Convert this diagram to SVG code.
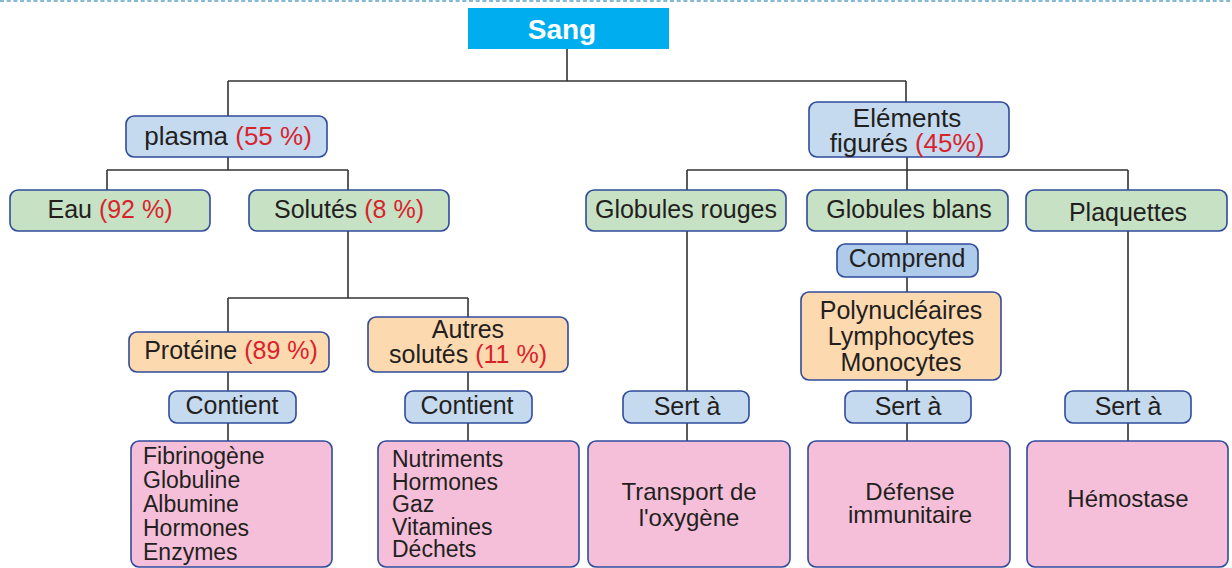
<svg xmlns="http://www.w3.org/2000/svg" width="1232" height="568" viewBox="0 0 1232 568">
  <style>
    text { font-family: "Liberation Sans", Arial, sans-serif; fill: #231F20; }
    .lbl { font-size: 25px; text-anchor: middle; }
    .big { font-size: 26px; text-anchor: middle; }
    .sm { font-size: 24px; text-anchor: middle; }
    .lst { font-size: 23px; }
    .pct { fill: #D9232C; }
    .box { stroke: #2F4B9B; stroke-width: 1.6; }
    .blue { fill: #C5DAEF; }
    .blue2 { fill: #AFCBEC; }
    .green { fill: #C7E1C4; }
    .orange { fill: #FDD9B0; }
    .pink { fill: #F5BFD9; }
    .wire { fill: none; stroke: #333333; stroke-width: 1.6; }
  </style>

  <rect width="1232" height="568" fill="#FFFFFF"/>
  <!-- page edge -->
  <line x1="0" y1="1" x2="1232" y2="1" stroke="#5FA3C6" stroke-width="1.5" stroke-dasharray="4 2.7"/>

  <!-- connectors -->
  <g id="connectors" class="wire">
    <path d="M567 49 V81 M228 81 H906 M228 81 V116 M906 81 V102"/>
    <path d="M228 157 V170 M107 170 H348 M107 170 V190 M348 170 V190"/>
    <path d="M348 231 V298 M228 298 H468 M228 298 V332 M468 298 V317"/>
    <path d="M228 372 V391 M228 423 V441 M468 372 V391 M468 423 V441"/>
    <path d="M907 157 V170 M687 170 H1128 M687 170 V190 M907 170 V190 M1128 170 V190"/>
    <path d="M687 231 V391 M687 423 V441"/>
    <path d="M907 231 V244 M907 277 V292 M907 380 V391 M907 423 V441"/>
    <path d="M1128 231 V391 M1128 423 V441"/>
  </g>

  <g id="sang">
    <rect x="468" y="8" width="201" height="41" fill="#00AEEF"/>
    <text x="562" y="39" text-anchor="middle" font-size="28" font-weight="bold" style="fill:#FFFFFF">Sang</text>
  </g>

  <g id="plasma">
    <rect class="box blue" x="126" y="116" width="201" height="41" rx="8"/>
    <text class="big" x="228" y="145">plasma <tspan class="pct">(55 %)</tspan></text>
  </g>

  <g id="elements">
    <rect class="box blue" x="809" y="102" width="200" height="55" rx="8"/>
    <text class="big" x="907" y="127">Eléments</text>
    <text class="big" x="907" y="152">figurés <tspan class="pct">(45%)</tspan></text>
  </g>

  <g id="eau">
    <rect class="box green" x="10" y="190" width="200" height="41" rx="8"/>
    <text class="lbl" x="110" y="218">Eau <tspan class="pct">(92 %)</tspan></text>
  </g>

  <g id="solutes">
    <rect class="box green" x="249" y="190" width="200" height="41" rx="8"/>
    <text class="lbl" x="349" y="218">Solutés <tspan class="pct">(8 %)</tspan></text>
  </g>

  <g id="proteine">
    <rect class="box orange" x="129" y="332" width="200" height="40" rx="8"/>
    <text class="lbl" x="231" y="359">Protéine <tspan class="pct">(89 %)</tspan></text>
  </g>

  <g id="autres">
    <rect class="box orange" x="368" y="317" width="200" height="55" rx="8"/>
    <text class="lbl" x="468" y="338">Autres</text>
    <text class="lbl" x="468" y="363">solutés <tspan class="pct">(11 %)</tspan></text>
  </g>

  <g id="contient-1">
    <rect class="box blue" x="169" y="391" width="127" height="32" rx="8"/>
    <text class="lbl" x="232" y="414">Contient</text>
  </g>

  <g id="contient-2">
    <rect class="box blue" x="405" y="391" width="127" height="32" rx="8"/>
    <text class="lbl" x="467" y="414">Contient</text>
  </g>

  <g id="proteines-liste">
    <rect class="box pink" x="131" y="441" width="201" height="126" rx="8"/>
    <text class="lst" x="143" y="464">Fibrinogène</text>
    <text class="lst" x="143" y="488">Globuline</text>
    <text class="lst" x="143" y="512">Albumine</text>
    <text class="lst" x="143" y="536">Hormones</text>
    <text class="lst" x="143" y="560">Enzymes</text>
  </g>

  <g id="solutes-liste">
    <rect class="box pink" x="378" y="441" width="201" height="126" rx="8"/>
    <text class="lst" x="392" y="467">Nutriments</text>
    <text class="lst" x="392" y="490">Hormones</text>
    <text class="lst" x="392" y="512">Gaz</text>
    <text class="lst" x="392" y="535">Vitamines</text>
    <text class="lst" x="392" y="557">Déchets</text>
  </g>

  <g id="globules-rouges">
    <rect class="box green" x="586" y="190" width="200" height="41" rx="8"/>
    <text class="lbl" x="686" y="218">Globules rouges</text>
  </g>

  <g id="globules-blancs">
    <rect class="box green" x="807" y="190" width="201" height="41" rx="8"/>
    <text class="lbl" x="909" y="218">Globules blans</text>
  </g>

  <g id="plaquettes">
    <rect class="box green" x="1026" y="190" width="201" height="41" rx="8"/>
    <text class="lbl" x="1128" y="221">Plaquettes</text>
  </g>

  <g id="comprend">
    <rect class="box blue2" x="837" y="244" width="141" height="33" rx="8"/>
    <text class="lbl" x="907" y="267">Comprend</text>
  </g>

  <g id="leucocytes">
    <rect class="box orange" x="801" y="292" width="200" height="88" rx="8"/>
    <text class="lbl" x="901" y="319">Polynucléaires</text>
    <text class="lbl" x="901" y="345">Lymphocytes</text>
    <text class="lbl" x="901" y="371">Monocytes</text>
  </g>

  <g id="sert-1">
    <rect class="box blue" x="623" y="391" width="126" height="32" rx="8"/>
    <text class="lbl" x="687" y="415">Sert à</text>
  </g>

  <g id="sert-2">
    <rect class="box blue" x="845" y="391" width="126" height="32" rx="8"/>
    <text class="lbl" x="908" y="415">Sert à</text>
  </g>

  <g id="sert-3">
    <rect class="box blue" x="1065" y="391" width="126" height="32" rx="8"/>
    <text class="lbl" x="1128" y="415">Sert à</text>
  </g>

  <g id="transport">
    <rect class="box pink" x="588" y="441" width="202" height="126" rx="8"/>
    <text class="sm" x="689" y="500">Transport de</text>
    <text class="sm" x="689" y="526">l'oxygène</text>
  </g>

  <g id="defense">
    <rect class="box pink" x="808" y="441" width="202" height="126" rx="8"/>
    <text class="sm" x="910" y="500">Défense</text>
    <text class="sm" x="910" y="523">immunitaire</text>
  </g>

  <g id="hemostase">
    <rect class="box pink" x="1027" y="441" width="201" height="126" rx="8"/>
    <text class="sm" x="1128" y="507">Hémostase</text>
  </g>
</svg>
